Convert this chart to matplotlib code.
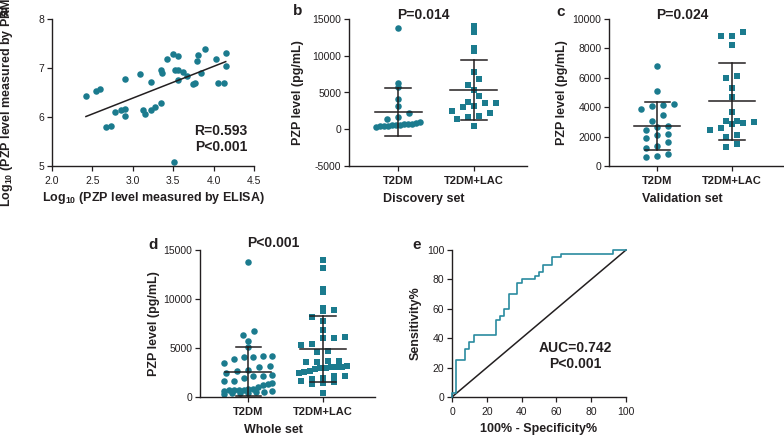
"""Five-panel PZP figure: correlation, scatter dot plots and ROC curve."""

import numpy as np
import matplotlib
matplotlib.use("Agg")
import matplotlib.pyplot as plt

plt.rcParams["font.family"] = ["Liberation Sans", "DejaVu Sans"]
plt.rcParams["mathtext.fontset"] = "custom"
plt.rcParams["mathtext.rm"] = "Liberation Sans:bold"
plt.rcParams["mathtext.default"] = "rm"
plt.rcParams["axes.unicode_minus"] = False

TEAL = "#1b7b8e"
INK = "#231f20"

# panel a: log10 ELISA vs log10 PRM
a_elisa = [2.42, 2.55, 2.59, 2.67, 2.735, 2.78, 2.86, 2.90, 2.90, 2.905,
           3.09, 3.13, 3.15, 3.22, 3.225, 3.27, 3.345, 3.345, 3.36, 3.42,
           3.495, 3.51, 3.52, 3.56, 3.56, 3.565, 3.62, 3.67, 3.74, 3.765,
           3.79, 3.81, 3.84, 3.89, 4.03, 4.05, 4.125, 4.15, 4.15]
a_prm = [6.42, 6.54, 6.58, 5.80, 5.82, 6.11, 6.15, 6.16, 6.03, 6.78,
         6.88, 6.15, 6.06, 6.15, 6.71, 6.20, 6.28, 6.95, 6.90, 7.19,
         7.28, 5.09, 6.95, 7.25, 6.76, 6.95, 6.91, 6.83, 6.67, 6.69,
         7.15, 7.26, 6.90, 7.39, 7.18, 6.70, 6.70, 7.30, 7.05]
fit_x = [2.42, 4.15]
fit_y = [6.01, 7.13]

groups = ["T2DM", "T2DM+LAC"]

# panel b: discovery set (pg/mL)
b_t2dm = [13800, 6300, 5700, 4100, 3200, 2200, 1600, 1400, 1050, 700,
          700, 700, 600, 550, 550, 450, 450, 450, 300, 800]
b_lac = [14000, 13180, 11050, 10680, 7730, 6820, 6050, 5360, 4590, 3550,
         3550, 3680, 3180, 3090, 2550, 2180, 1860, 1640, 1400, 450]
b_mean = [2360, 5360]
b_sd = [3230, 4040]

# panel c: validation set (pg/mL)
c_t2dm = [6770, 5070, 4200, 4160, 4090, 3890, 3480, 3070, 2750, 2680,
          2450, 2160, 2110, 1930, 1660, 1360, 1250, 820, 700, 640]
c_lac = [9110, 8860, 8820, 8200, 6090, 5980, 5300, 4660, 3700, 3090,
         3070, 2980, 2910, 2840, 2610, 2450, 2110, 1950, 1480, 1320]
c_mean = [2750, 4390]
c_sd = [1630, 2610]

# panel d: whole set = discovery + validation
d_t2dm = b_t2dm + c_t2dm
d_lac = b_lac + c_lac
d_mean = [2590, 4875]
d_sd = [2520, 3390]

# panel e: ROC curve (step points)
roc_fpr = [0, 0, 2.5, 7.5, 10, 12.5, 25, 27.5, 30, 32.5, 37.5, 40,
           47.5, 50, 52.5, 57.5, 62.5, 92.5, 100]
roc_sens = [0, 2.5, 25, 32.5, 37.5, 42.5, 52.5, 55, 60, 70, 77.5, 80,
            82.5, 85, 90, 95, 97.5, 100, 100]

fig = plt.figure(figsize=(7.84, 4.36), dpi=100)
W, H = 784.0, 436.0


def add_axes(left, top, right, bottom):
    """Axes from pixel box (top-left origin)."""
    return fig.add_axes([left / W, 1 - bottom / H, (right - left) / W, (bottom - top) / H])


def style(ax):
    for side in ("top", "right"):
        ax.spines[side].set_visible(False)
    for side in ("left", "bottom"):
        ax.spines[side].set_linewidth(1.0)
        ax.spines[side].set_color(INK)
    ax.tick_params(direction="out", length=3.5, width=0.9, color=INK,
                   labelsize=7.5, labelcolor=INK, pad=2)
    ax.tick_params(axis="x", pad=3.5)


def set_labels(ax, xlabel, ylabel, xy_x, xy_y):
    """Axis titles centred at given axes-fraction coords."""
    ax.set_xlabel(xlabel, fontsize=9, fontweight="bold", color=INK)
    ax.set_ylabel(ylabel, fontsize=9, fontweight="bold", color=INK)
    ax.xaxis.label.set_va("center")
    ax.yaxis.label.set_va("center")
    ax.xaxis.set_label_coords(xy_x[0], xy_x[1])
    ax.yaxis.set_label_coords(xy_y[0], xy_y[1])


def swarm_x(ax, center, values, bin_px=9.0, step_px=11.0, max_px=44.0):
    """GraphPad-like rows: points in the same pixel band spread side by side."""
    pts = ax.transData.transform(np.column_stack([np.full(len(values), center), values]))
    xc, ys = pts[0, 0], pts[:, 1]
    xs = np.zeros(len(values))
    rows = {}
    for i in np.argsort(ys):
        rows.setdefault(int(ys[i] // bin_px), []).append(i)
    for idx in rows.values():
        n = len(idx)
        if n == 1:
            continue
        step = min(step_px, max_px / (n - 1))
        for k, i in enumerate(idx):
            xs[i] = (k - (n - 1) / 2) * step
    back = ax.transData.inverted().transform(np.column_stack([xc + xs, ys]))
    return back[:, 0]


def dot_panel(ax, t2dm, lac, means, sds, ylim, yticks, title, xlabel, label_x,
              title_y=1.03, max_px=44.0):
    style(ax)
    ax.set_xlim(-0.65, 1.7)
    ax.set_ylim(*ylim)
    ax.set_yticks(yticks)
    ax.set_xticks([0, 1])
    ax.set_xticklabels(groups, fontweight="bold", fontsize=8)
    ax.scatter(swarm_x(ax, 0, t2dm, max_px=max_px), t2dm, s=22, marker="o", color=TEAL,
               linewidths=0, zorder=2, clip_on=False)
    ax.scatter(swarm_x(ax, 1, lac, max_px=max_px), lac, s=22, marker="s", color=TEAL,
               linewidths=0, zorder=2, clip_on=False)
    for i, (m, sd) in enumerate(zip(means, sds)):
        ax.plot([i - 0.31, i + 0.31], [m, m], color=INK, lw=1.1, zorder=3)
        ax.plot([i, i], [m - sd, m + sd], color=INK, lw=1.1, zorder=3)
        for cap in (m - sd, m + sd):
            ax.plot([i - 0.17, i + 0.17], [cap, cap], color=INK, lw=1.1, zorder=3)
    set_labels(ax, xlabel, "PZP level (pg/mL)", (0.42, -0.224), (label_x, 0.5))
    ax.text(0.42, title_y, title, transform=ax.transAxes, ha="center", va="center",
            fontsize=10, fontweight="bold", color=INK)


# a
ax_a = add_axes(52, 19, 254, 166)
style(ax_a)
ax_a.scatter(a_elisa, a_prm, s=22, color=TEAL, linewidths=0, zorder=2, clip_on=False)
ax_a.plot(fit_x, fit_y, color=INK, lw=1.1, zorder=3)
ax_a.set_xlim(2.0, 4.5)
ax_a.set_ylim(5, 8)
ax_a.set_xticks([2.0, 2.5, 3.0, 3.5, 4.0, 4.5])
ax_a.set_xticklabels([f"{v:.1f}" for v in [2.0, 2.5, 3.0, 3.5, 4.0, 4.5]])
ax_a.set_yticks([5, 6, 7, 8])
set_labels(ax_a, "Log$_{10}$ (PZP level measured by ELISA)",
           "Log$_{10}$ (PZP level measured by PRM)", (0.5, -0.218), (-0.225, 0.45))
ax_a.text(0.837, 0.238, "R=0.593", transform=ax_a.transAxes, ha="center", va="center",
          fontsize=10, fontweight="bold", color=INK)
ax_a.text(0.837, 0.129, "P<0.001", transform=ax_a.transAxes, ha="center", va="center",
          fontsize=10, fontweight="bold", color=INK)

# b, c, d
ax_b = add_axes(349, 19, 527, 166)
dot_panel(ax_b, b_t2dm, b_lac, b_mean, b_sd, (-5000, 15000),
          [-5000, 0, 5000, 10000, 15000], "P=0.014", "Discovery set", -0.287)
ax_c = add_axes(609, 19, 784, 166)
dot_panel(ax_c, c_t2dm, c_lac, c_mean, c_sd, (0, 10000),
          [0, 2000, 4000, 6000, 8000, 10000], "P=0.024", "Validation set", -0.269)
ax_d = add_axes(200, 250, 375, 397)
dot_panel(ax_d, d_t2dm, d_lac, d_mean, d_sd, (0, 15000),
          [0, 5000, 10000, 15000], "P<0.001", "Whole set", -0.263,
          title_y=1.048, max_px=48.0)

# e
ax_e = add_axes(452, 250, 626, 397)
style(ax_e)
ax_e.plot([0, 100], [0, 100], color=INK, lw=1.1, zorder=2, clip_on=False)
ax_e.step(roc_fpr, roc_sens, where="post", color="#2a8ba0", lw=1.2, zorder=3, clip_on=False)
ax_e.set_xlim(0, 100)
ax_e.set_ylim(0, 100)
ax_e.set_xticks(range(0, 101, 20))
ax_e.set_yticks(range(0, 101, 20))
set_labels(ax_e, "100% - Specificity%", "Sensitivity%", (0.5, -0.218), (-0.207, 0.5))
ax_e.text(0.707, 0.333, "AUC=0.742", transform=ax_e.transAxes, ha="center", va="center",
          fontsize=10, fontweight="bold", color=INK)
ax_e.text(0.707, 0.224, "P<0.001", transform=ax_e.transAxes, ha="center", va="center",
          fontsize=10, fontweight="bold", color=INK)

# panel letters
for letter, x, y in [("a", 0, 12), ("b", 293, 11), ("c", 556, 12),
                     ("d", 148, 245), ("e", 412, 245)]:
    fig.text(x / W, 1 - y / H, letter, ha="left", va="center", fontsize=11,
             fontweight="bold", color=INK)

fig.savefig("out.png", dpi=100)
